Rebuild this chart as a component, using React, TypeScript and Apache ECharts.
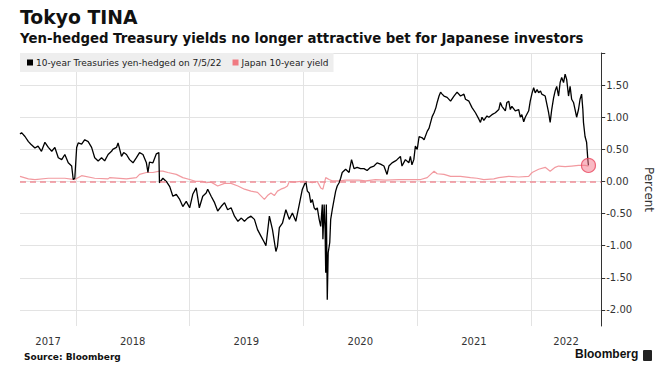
import React, { useEffect, useRef } from 'react';
import * as echarts from 'echarts';

const treasuryYield: [string, number][] = [
  ['2017-07-05', 0.74], ['2017-07-10', 0.76], ['2017-07-21', 0.70], ['2017-08-01', 0.62], ['2017-08-09', 0.58],
  ['2017-08-22', 0.52], ['2017-09-01', 0.55], ['2017-09-12', 0.47], ['2017-09-23', 0.61], ['2017-10-04', 0.53],
  ['2017-10-15', 0.47], ['2017-10-25', 0.53], ['2017-11-05', 0.37], ['2017-11-16', 0.34], ['2017-11-26', 0.42],
  ['2017-12-07', 0.29], ['2017-12-18', 0.24], ['2017-12-23', 0.03], ['2017-12-28', 0.05], ['2018-01-03', 0.53],
  ['2018-01-08', 0.60], ['2018-01-19', 0.58], ['2018-01-29', 0.65], ['2018-02-09', 0.62], ['2018-02-20', 0.53],
  ['2018-03-02', 0.37], ['2018-03-13', 0.32], ['2018-03-24', 0.37], ['2018-04-03', 0.32], ['2018-04-14', 0.42],
  ['2018-04-25', 0.47], ['2018-04-29', 0.50], ['2018-05-11', 0.53], ['2018-05-16', 0.60], ['2018-05-27', 0.39],
  ['2018-06-03', 0.45], ['2018-06-12', 0.42], ['2018-06-22', 0.34], ['2018-07-03', 0.29], ['2018-07-14', 0.37],
  ['2018-07-24', 0.45], ['2018-08-04', 0.42], ['2018-08-15', 0.29], ['2018-08-20', 0.14], ['2018-08-25', 0.30],
  ['2018-09-05', 0.29], ['2018-09-16', 0.43], ['2018-09-24', 0.45], ['2018-09-26', -0.02], ['2018-10-07', 0.05],
  ['2018-10-18', 0.00], ['2018-10-29', -0.08], ['2018-11-08', -0.23], ['2018-11-19', -0.20], ['2018-11-30', -0.28],
  ['2018-12-10', -0.39], ['2018-12-21', -0.31], ['2019-01-01', -0.41], ['2019-01-11', -0.20], ['2019-01-22', -0.10],
  ['2019-02-01', -0.41], ['2019-02-12', -0.23], ['2019-02-23', -0.18], ['2019-02-28', -0.12], ['2019-03-11', -0.23],
  ['2019-03-22', -0.33], ['2019-04-01', -0.46], ['2019-04-12', -0.39], ['2019-04-23', -0.33], ['2019-05-03', -0.44],
  ['2019-05-14', -0.41], ['2019-05-25', -0.54], ['2019-06-05', -0.62], ['2019-06-16', -0.57], ['2019-06-26', -0.62],
  ['2019-07-06', -0.57], ['2019-07-17', -0.54], ['2019-07-28', -0.59], ['2019-08-07', -0.75], ['2019-08-18', -0.85],
  ['2019-08-29', -0.95], ['2019-09-03', -1.00], ['2019-09-14', -0.54], ['2019-09-24', -0.75], ['2019-10-05', -1.09],
  ['2019-10-10', -1.01], ['2019-10-16', -0.72], ['2019-10-26', -0.65], ['2019-11-06', -0.44], ['2019-11-17', -0.59],
  ['2019-11-27', -0.49], ['2019-12-08', -0.62], ['2019-12-19', -0.36], ['2019-12-29', -0.12], ['2020-01-09', 0.00],
  ['2020-01-14', -0.15], ['2020-01-20', -0.18], ['2020-01-25', -0.33], ['2020-01-30', -0.28], ['2020-02-05', -0.41],
  ['2020-02-10', -0.44], ['2020-02-15', -0.41], ['2020-02-21', -0.59], ['2020-02-26', -0.70], ['2020-03-02', -0.36],
  ['2020-03-04', -0.90], ['2020-03-08', -0.36], ['2020-03-11', -0.75], ['2020-03-13', -1.42], ['2020-03-15', -0.36],
  ['2020-03-18', -1.84], ['2020-03-21', -1.11], ['2020-03-26', -0.95], ['2020-03-29', -0.59], ['2020-04-03', -0.44],
  ['2020-04-09', -0.28], ['2020-04-14', -0.15], ['2020-04-19', -0.07], ['2020-04-25', -0.02], ['2020-04-30', 0.05],
  ['2020-05-05', 0.14], ['2020-05-16', 0.19], ['2020-05-27', 0.14], ['2020-06-04', 0.34], ['2020-06-12', 0.20],
  ['2020-06-22', 0.22], ['2020-07-03', 0.20], ['2020-07-14', 0.20], ['2020-07-24', 0.17], ['2020-08-04', 0.22],
  ['2020-08-15', 0.24], ['2020-08-25', 0.29], ['2020-09-05', 0.27], ['2020-09-16', 0.24], ['2020-09-26', 0.11],
  ['2020-10-02', 0.24], ['2020-10-12', 0.29], ['2020-10-23', 0.32], ['2020-10-28', 0.34], ['2020-11-08', 0.39],
  ['2020-11-13', 0.24], ['2020-11-24', 0.34], ['2020-12-05', 0.29], ['2020-12-10', 0.39], ['2020-12-15', 0.26],
  ['2020-12-21', 0.34], ['2020-12-26', 0.55], ['2021-01-01', 0.50], ['2021-01-07', 0.70], ['2021-01-17', 0.68],
  ['2021-01-23', 0.65], ['2021-02-02', 0.78], ['2021-02-08', 0.83], ['2021-02-13', 0.92], ['2021-02-18', 1.01],
  ['2021-02-24', 1.07], ['2021-03-02', 1.15], ['2021-03-06', 1.23], ['2021-03-12', 1.33], ['2021-03-17', 1.39],
  ['2021-03-22', 1.36], ['2021-03-28', 1.33], ['2021-04-07', 1.31], ['2021-04-18', 1.25], ['2021-04-29', 1.33],
  ['2021-05-09', 1.39], ['2021-05-20', 1.33], ['2021-05-31', 1.36], ['2021-06-05', 1.28], ['2021-06-16', 1.25],
  ['2021-06-26', 1.15], ['2021-07-07', 1.07], ['2021-07-18', 0.97], ['2021-07-23', 0.92], ['2021-07-28', 1.00],
  ['2021-08-03', 0.95], ['2021-08-13', 1.02], ['2021-08-19', 1.00], ['2021-08-29', 1.04], ['2021-09-09', 1.07],
  ['2021-09-20', 1.12], ['2021-09-25', 1.23], ['2021-09-30', 1.17], ['2021-10-11', 1.10], ['2021-10-16', 1.23],
  ['2021-10-22', 1.25], ['2021-10-27', 1.12], ['2021-11-01', 1.17], ['2021-11-12', 1.10], ['2021-11-23', 1.12],
  ['2021-11-28', 1.00], ['2021-12-03', 1.04], ['2021-12-09', 0.93], ['2021-12-14', 1.00], ['2021-12-25', 1.10],
  ['2021-12-30', 1.25], ['2022-01-05', 1.38], ['2022-01-10', 1.46], ['2022-01-15', 1.38], ['2022-01-21', 1.43],
  ['2022-01-26', 1.38], ['2022-02-01', 1.41], ['2022-02-05', 1.36], ['2022-02-16', 1.33], ['2022-02-27', 1.07],
  ['2022-03-04', 0.92], ['2022-03-09', 1.12], ['2022-03-15', 1.30], ['2022-03-20', 1.41], ['2022-03-25', 1.48],
  ['2022-03-31', 1.33], ['2022-04-05', 1.54], ['2022-04-10', 1.62], ['2022-04-16', 1.54], ['2022-04-21', 1.67],
  ['2022-04-26', 1.59], ['2022-05-02', 1.33], ['2022-05-07', 1.48], ['2022-05-12', 1.28], ['2022-05-18', 1.23],
  ['2022-05-23', 1.12], ['2022-05-28', 1.00], ['2022-06-03', 1.12], ['2022-06-08', 1.28], ['2022-06-13', 1.36],
  ['2022-06-17', 1.12], ['2022-06-19', 0.92], ['2022-06-24', 0.70], ['2022-06-29', 0.61], ['2022-07-03', 0.34],
  ['2022-07-05', 0.25],
];

const japanYield: [string, number][] = [
  ['2017-07-05', 0.08], ['2017-08-01', 0.04], ['2017-08-22', 0.03], ['2017-10-04', 0.05], ['2017-11-26', 0.05],
  ['2017-12-28', 0.03], ['2018-01-19', 0.09], ['2018-03-02', 0.05], ['2018-04-14', 0.04], ['2018-04-19', 0.06],
  ['2018-06-12', 0.04], ['2018-07-14', 0.06], ['2018-07-24', 0.11], ['2018-08-15', 0.14], ['2018-09-05', 0.14],
  ['2018-09-26', 0.16], ['2018-10-07', 0.16], ['2018-10-23', 0.14], ['2018-11-19', 0.11], ['2018-12-10', 0.06],
  ['2019-01-01', 0.03], ['2019-01-22', 0.00], ['2019-02-12', 0.00], ['2019-02-23', -0.02], ['2019-03-11', -0.01],
  ['2019-04-01', -0.07], ['2019-04-23', -0.03], ['2019-05-14', -0.03], ['2019-06-05', -0.07], ['2019-06-26', -0.12],
  ['2019-07-17', -0.15], ['2019-08-07', -0.17], ['2019-08-29', -0.28], ['2019-09-08', -0.22], ['2019-09-19', -0.18],
  ['2019-09-30', -0.22], ['2019-10-10', -0.15], ['2019-10-21', -0.12], ['2019-11-01', -0.10], ['2019-11-11', -0.07],
  ['2019-11-17', 0.00], ['2019-12-03', -0.01], ['2019-12-24', 0.00], ['2020-01-09', 0.00], ['2020-01-30', -0.02],
  ['2020-02-15', 0.00], ['2020-02-26', -0.10], ['2020-03-04', -0.12], ['2020-03-13', 0.06], ['2020-03-24', 0.03],
  ['2020-04-03', 0.01], ['2020-04-25', 0.01], ['2020-05-16', 0.02], ['2020-06-06', 0.02], ['2020-06-28', 0.02],
  ['2020-07-19', 0.01], ['2020-08-20', 0.03], ['2020-09-21', 0.02], ['2020-11-03', 0.03], ['2020-11-29', 0.03],
  ['2021-01-12', 0.03], ['2021-02-02', 0.06], ['2021-02-13', 0.11], ['2021-02-24', 0.16], ['2021-03-06', 0.12],
  ['2021-03-28', 0.11], ['2021-04-18', 0.08], ['2021-05-20', 0.08], ['2021-06-21', 0.06], ['2021-07-12', 0.05],
  ['2021-08-03', 0.03], ['2021-09-04', 0.04], ['2021-09-20', 0.06], ['2021-10-22', 0.08], ['2021-11-23', 0.07],
  ['2021-12-25', 0.08], ['2022-01-05', 0.14], ['2022-01-26', 0.19], ['2022-02-16', 0.22], ['2022-03-04', 0.16],
  ['2022-03-20', 0.22], ['2022-03-31', 0.24], ['2022-04-21', 0.23], ['2022-05-12', 0.24], ['2022-06-03', 0.25],
  ['2022-06-24', 0.25], ['2022-07-05', 0.24],
];

const xRange = ['2017-07-05', '2022-08-15'];
const yearStarts = ['2018-01-01', '2019-01-01', '2020-01-01', '2021-01-01', '2022-01-01'];
const yearLabelDates = ['2017-10-03', '2018-07-02', '2019-07-02', '2020-07-02', '2021-07-02', '2022-04-24'];
const yTickValues = [-2, -1.5, -1, -0.5, 0, 0.5, 1, 1.5, 2];
const yLabelValues = [-2, -1.5, -1, -0.5, 0, 0.5, 1, 1.5];

const TREASURY_NAME = '10-year Treasuries yen-hedged on 7/5/22';
const JAPAN_NAME = 'Japan 10-year yield';

const ts = (d: string) => Date.parse(d + 'T00:00:00Z');
const toPoints = (rows: [string, number][]) => rows.map(([d, v]) => [ts(d), v]);

export default function App() {
  const ref = useRef<HTMLDivElement>(null);

  useEffect(() => {
    document.body.style.margin = '0';
    if (!ref.current) return;
    const chart = echarts.init(ref.current, undefined, { renderer: 'svg' });
    const treasuryPts = toPoints(treasuryYield);
    const japanPts = toPoints(japanYield);
    const last = treasuryPts[treasuryPts.length - 1];
    chart.setOption({
      animation: false,
      backgroundColor: '#ffffff',
      textStyle: { fontFamily: 'DejaVu Sans' },
      title: [
        {
          text: 'Tokyo TINA', left: 20, top: 8, padding: 0,
          textStyle: { fontSize: 18.8, fontWeight: 'bold', color: '#111', fontFamily: 'DejaVu Sans' },
        },
        {
          text: 'Yen-hedged Treasury yields no longer attractive bet for Japanese investors', left: 20, top: 32, padding: 0,
          textStyle: { fontSize: 13.3, fontWeight: 'bold', color: '#111', fontFamily: 'DejaVu Sans' },
        },
        {
          text: 'Source: Bloomberg', left: 24, top: 352, padding: 0,
          textStyle: { fontSize: 9, fontWeight: 'bold', color: '#111', fontFamily: 'DejaVu Sans' },
        },
      ],
      legend: {
        data: [TREASURY_NAME, JAPAN_NAME],
        left: 20, top: 53,
        padding: [5, 5, 5, 7],
        backgroundColor: '#eeeeee',
        icon: 'rect', itemWidth: 6, itemHeight: 6, itemGap: 11,
        textStyle: { fontSize: 9, color: '#222', fontFamily: 'DejaVu Sans', padding: [0, 0, 0, -2] },
      },
      grid: { left: 20, right: 60, top: 53, bottom: 55 },
      xAxis: {
        type: 'value',
        min: ts(xRange[0]), max: ts(xRange[1]),
        axisLine: { show: false },
        axisTick: { show: false, customValues: yearStarts.map(ts) },
        splitLine: { show: true, lineStyle: { color: '#e3e3e3', width: 1 } },
        axisLabel: {
          customValues: yearLabelDates.map(ts),
          formatter: (v: number) => String(new Date(v).getUTCFullYear()),
          fontSize: 10, color: '#333', margin: 10, fontFamily: 'DejaVu Sans',
        },
      },
      yAxis: {
        type: 'value', position: 'right', min: -2.25, max: 2,
        axisLine: { show: true, lineStyle: { color: '#333', width: 1 } },
        axisTick: { show: true, length: 4, lineStyle: { color: '#333' }, customValues: yTickValues },
        axisLabel: {
          customValues: yLabelValues,
          formatter: (v: number) => v.toFixed(2),
          fontSize: 10, color: '#333', margin: 5, fontFamily: 'DejaVu Sans',
        },
        splitLine: { show: true, lineStyle: { color: '#e3e3e3' } },
        name: 'Percent', nameLocation: 'middle', nameRotate: -90, nameGap: 37,
        nameTextStyle: { fontSize: 12, color: '#333', fontFamily: 'DejaVu Sans' },
      },
      series: [
        {
          name: JAPAN_NAME, type: 'line', data: japanPts, symbol: 'none', z: 2,
          lineStyle: { color: '#f29aa0', width: 1.2 }, itemStyle: { color: '#f07a82' },
          markLine: {
            silent: true, symbol: ['none', 'none'], label: { show: false },
            lineStyle: { color: '#ef8d96', type: [6, 4], width: 1.5 },
            data: [{ yAxis: 0 }],
          },
        },
        {
          name: TREASURY_NAME, type: 'line', data: treasuryPts, symbol: 'none', z: 3,
          lineStyle: { color: '#000', width: 1.3 }, itemStyle: { color: '#000' },
        },
        {
          type: 'scatter', data: [last], symbolSize: 14, z: 4,
          itemStyle: { color: 'rgba(244,120,140,0.65)', borderColor: '#e8465e', borderWidth: 1.2 },
        },
      ],
      graphic: [
        {
          type: 'text', left: 575, top: 348,
          style: { text: 'Bloomberg', font: 'bold 12px "Liberation Sans"', fill: '#111' },
        },
        {
          type: 'rect', left: 643, top: 350,
          shape: { width: 9, height: 11, r: 1 },
          style: { fill: '#222' },
        },
      ],
    });
    return () => chart.dispose();
  }, []);

  return <div ref={ref} style={{ width: 663, height: 381 }} />;
}
